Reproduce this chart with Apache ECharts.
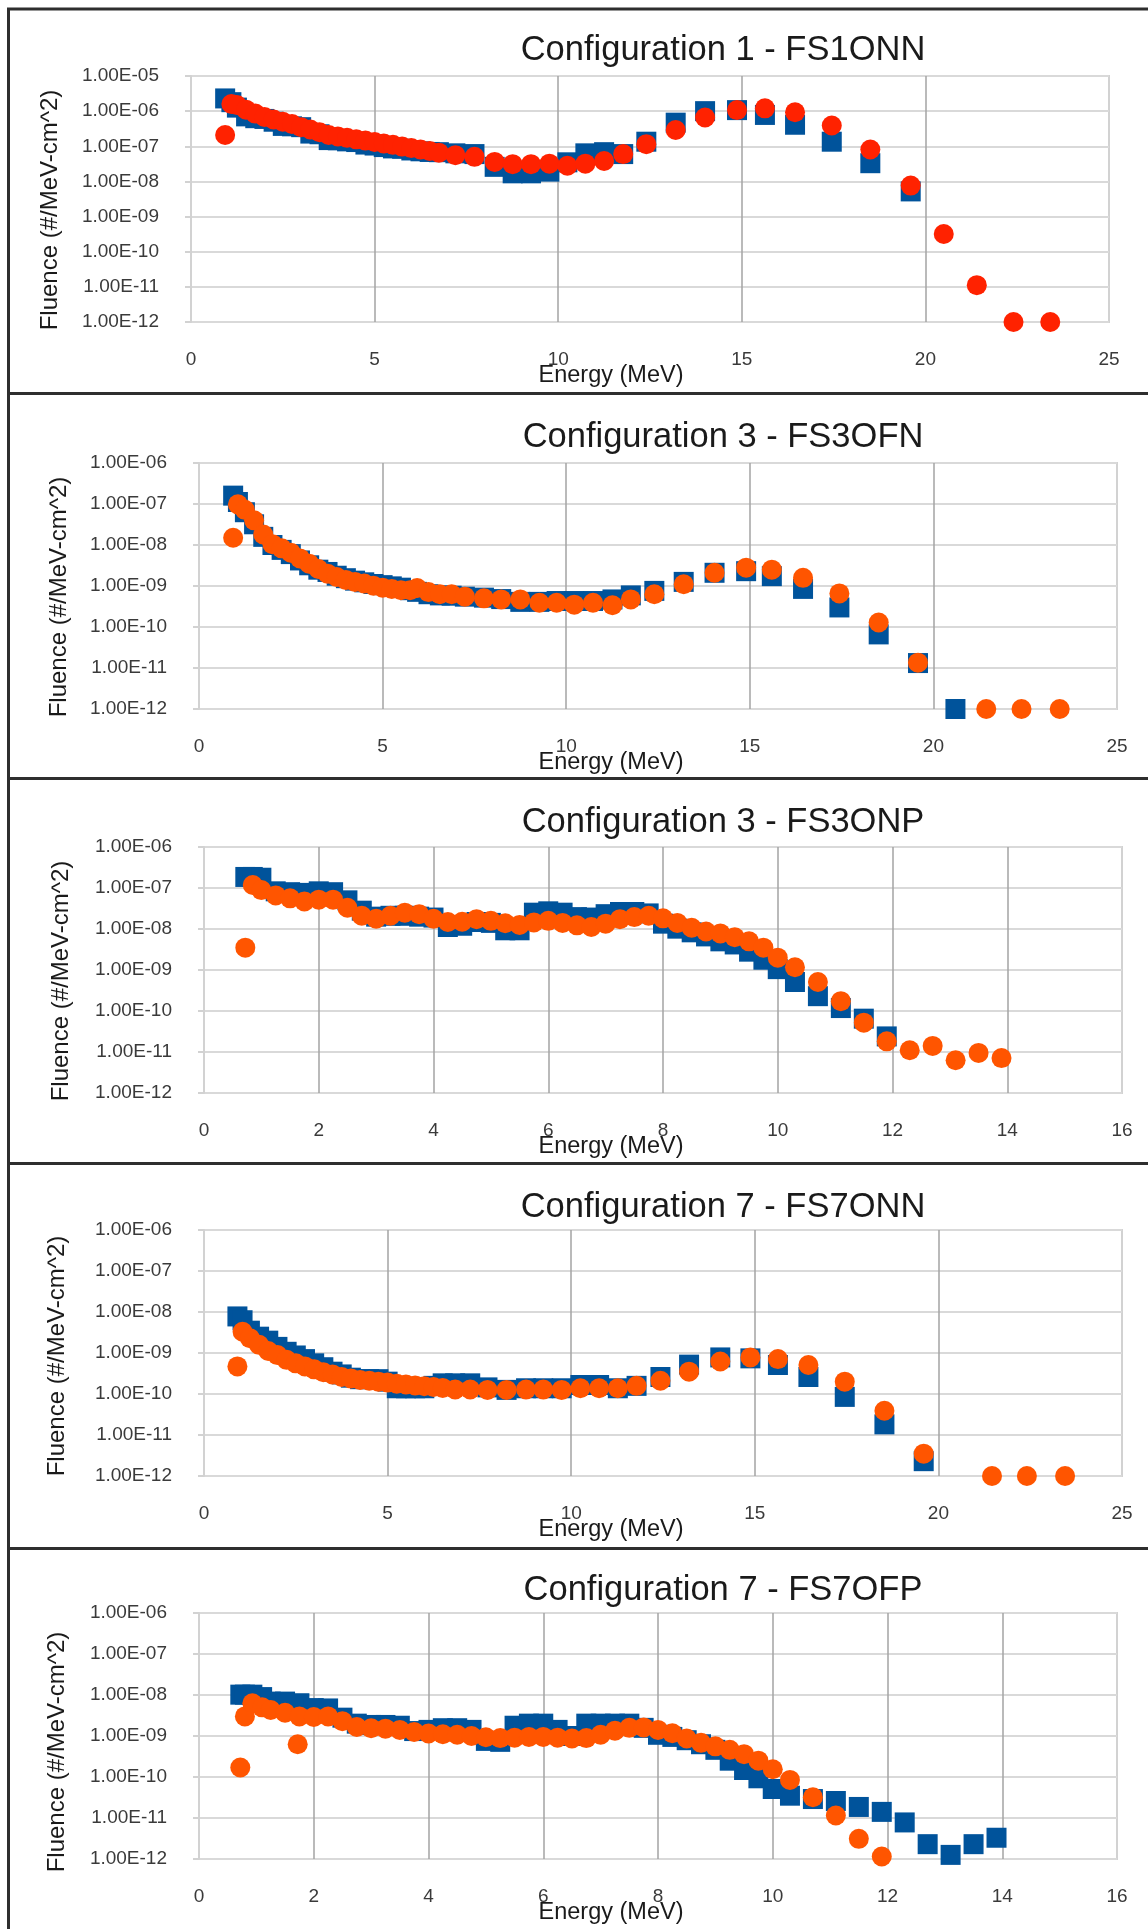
<!DOCTYPE html>
<html><head><meta charset="utf-8">
<script src="https://cdn.jsdelivr.net/npm/echarts@6/dist/echarts.min.js"></script>
<style>html,body{margin:0;padding:0;background:#fff}#c{width:1148px;height:1929px}</style>
</head><body><div id="c"></div>
<script>
// ---------- DATA ----------
const titles = [
  'Configuration 1 - FS1ONN',
  'Configuration 3 - FS3OFN',
  'Configuration 3 - FS3ONP',
  'Configuration 7 - FS7ONN',
  'Configuration 7 - FS7OFP'
];
const xAxisName = 'Energy (MeV)';
const yAxisName = 'Fluence (#/MeV-cm^2)';
const xMaxes = [25, 25, 16, 25, 16];
const xSteps = [5, 5, 2, 5, 2];
const yMins = [1e-12, 1e-12, 1e-12, 1e-12, 1e-12];
const yMaxes = [1e-5, 1e-6, 1e-6, 1e-6, 1e-6];

// Panel 1 - FS1ONN
const p1Energy = [0.93,1.1,1.25,1.5,1.75,2.0,2.25,2.5,2.75,3.0,3.25,3.5,3.75,4.0,4.25,4.5,4.75,5.0,5.25,5.5,5.75,6.0,6.25,6.5,6.75,7.2,7.72,8.27,8.76,9.26,9.76,10.25,10.74,11.25,11.77,12.4,13.2,14.0,14.87,15.63,16.45,17.45,18.5,19.6,20.5,21.4,22.4,23.4];
const p1Blue = [2.3e-6,1.8e-6,1.26e-6,7.1e-7,6.3e-7,6.0e-7,5.0e-7,3.8e-7,3.7e-7,3.5e-7,2.3e-7,2.2e-7,1.5e-7,1.48e-7,1.38e-7,1.32e-7,1.12e-7,1.05e-7,9.5e-8,8.7e-8,8.5e-8,7.6e-8,7.2e-8,6.9e-8,6.8e-8,6.3e-8,6.0e-8,2.6e-8,1.7e-8,1.7e-8,1.9e-8,3.5e-8,6.3e-8,6.8e-8,6.0e-8,1.35e-7,4.7e-7,1.0e-6,1.07e-6,7.8e-7,4.1e-7,1.35e-7,3.3e-8,5.2e-9,null,null,null,null];
const p1Red = [2.1e-7,1.6e-6,1.5e-6,1.1e-6,8.5e-7,6.8e-7,5.8e-7,5.0e-7,4.3e-7,3.5e-7,3.0e-7,2.5e-7,2.1e-7,1.9e-7,1.74e-7,1.58e-7,1.45e-7,1.32e-7,1.2e-7,1.1e-7,9.8e-8,8.9e-8,8.1e-8,7.4e-8,6.6e-8,5.6e-8,5.0e-8,3.6e-8,3.1e-8,3.1e-8,3.2e-8,2.8e-8,3.2e-8,3.8e-8,6.0e-8,1.15e-7,2.9e-7,6.6e-7,1.07e-6,1.2e-6,9.3e-7,3.9e-7,8.1e-8,7.6e-9,3.2e-10,1.12e-11,1e-12,1e-12];

// Panel 2 - FS3OFN
const p2Energy = [0.93,1.06,1.25,1.5,1.75,2.0,2.25,2.5,2.75,3.0,3.25,3.5,3.75,4.0,4.25,4.5,4.75,5.0,5.25,5.5,5.75,5.94,6.25,6.56,6.88,7.24,7.76,8.23,8.75,9.27,9.74,10.22,10.73,11.26,11.76,12.4,13.2,14.04,14.9,15.6,16.45,17.44,18.51,19.58,20.6,21.44,22.4,23.44];
const p2Blue = [1.6e-7,1.12e-7,6.3e-8,3.2e-8,1.58e-8,1.0e-8,7.6e-9,6.0e-9,4.2e-9,3.2e-9,2.5e-9,2.2e-9,1.78e-9,1.55e-9,1.35e-9,1.23e-9,1.12e-9,1.05e-9,9.8e-10,9.1e-10,7.9e-10,7.2e-10,6.3e-10,5.9e-10,5.8e-10,5.5e-10,5.2e-10,4.8e-10,4.1e-10,4.1e-10,4.3e-10,4.3e-10,4.3e-10,4.7e-10,5.9e-10,7.6e-10,1.26e-9,2.1e-9,2.3e-9,1.74e-9,8.5e-10,3.0e-10,6.6e-11,1.32e-11,1e-12,null,null,null];
const p2Orange = [1.5e-8,9.8e-8,7.2e-8,4.0e-8,1.8e-8,1.05e-8,8.3e-9,6.5e-9,4.7e-9,3.5e-9,2.6e-9,2.0e-9,1.66e-9,1.41e-9,1.26e-9,1.15e-9,1.02e-9,9.1e-10,8.5e-10,7.9e-10,7.9e-10,8.9e-10,7.1e-10,6.3e-10,6.3e-10,5.5e-10,5.0e-10,4.7e-10,4.7e-10,3.9e-10,3.9e-10,3.5e-10,3.9e-10,3.4e-10,4.7e-10,6.3e-10,1.1e-9,2.1e-9,2.8e-9,2.5e-9,1.58e-9,6.6e-10,1.29e-10,1.35e-11,null,1e-12,1e-12,1e-12];

// Panel 3 - FS3ONP
const p3Energy = [0.72,0.85,1.0,1.25,1.5,1.75,2.0,2.25,2.5,2.75,3.0,3.25,3.5,3.75,4.0,4.25,4.5,4.75,5.0,5.25,5.5,5.75,6.0,6.25,6.5,6.75,7.0,7.25,7.5,7.75,8.0,8.25,8.5,8.75,9.0,9.25,9.5,9.75,10.0,10.3,10.7,11.1,11.5,11.9,12.3,12.7,13.1,13.5,13.9];
const p3Blue = [1.86e-7,1.86e-7,1.78e-7,8.3e-8,7.9e-8,7.6e-8,8.3e-8,7.9e-8,5.0e-8,2.8e-8,2.0e-8,2.1e-8,2.1e-8,2.0e-8,1.9e-8,1.12e-8,1.2e-8,1.48e-8,1.41e-8,9.3e-9,9.3e-9,2.5e-8,2.7e-8,2.5e-8,1.95e-8,1.9e-8,2.3e-8,2.6e-8,2.6e-8,2.4e-8,1.35e-8,1.02e-8,8.3e-9,6.6e-9,5.0e-9,4.2e-9,2.8e-9,1.78e-9,1.05e-9,5.1e-10,2.3e-10,1.18e-10,6.5e-11,2.4e-11,null,null,null,null,null];
const p3Orange = [3.5e-9,1.18e-7,8.9e-8,6.6e-8,5.6e-8,4.7e-8,5.2e-8,5.2e-8,3.3e-8,2.1e-8,1.78e-8,2.1e-8,2.5e-8,2.3e-8,1.78e-8,1.48e-8,1.5e-8,1.74e-8,1.58e-8,1.38e-8,1.26e-8,1.45e-8,1.58e-8,1.41e-8,1.23e-8,1.12e-8,1.35e-8,1.74e-8,1.95e-8,2.1e-8,1.82e-8,1.41e-8,1.07e-8,8.7e-9,7.8e-9,6.3e-9,5.0e-9,3.5e-9,2.0e-9,1.17e-9,5.1e-10,1.74e-10,5.2e-11,1.82e-11,1.1e-11,1.41e-11,6.3e-12,9.5e-12,7.1e-12];

// Panel 4 - FS7ONN
const p4Energy = [0.91,1.05,1.25,1.5,1.75,2.0,2.25,2.5,2.75,3.0,3.25,3.5,3.75,4.0,4.25,4.5,4.75,5.0,5.25,5.5,5.75,6.0,6.25,6.5,6.84,7.25,7.72,8.24,8.77,9.24,9.74,10.25,10.76,11.27,11.78,12.43,13.21,14.06,14.88,15.63,16.46,17.45,18.53,19.6,21.46,22.41,23.45];
const p4Blue = [7.8e-9,6.3e-9,3.5e-9,2.5e-9,2.0e-9,1.41e-9,1.07e-9,8.7e-10,7.1e-10,5.6e-10,4.5e-10,3.5e-10,3.0e-10,2.5e-10,2.3e-10,2.3e-10,2.3e-10,2.0e-10,1.38e-10,1.38e-10,1.38e-10,1.38e-10,1.58e-10,1.82e-10,1.82e-10,1.82e-10,1.45e-10,1.26e-10,1.38e-10,1.38e-10,1.38e-10,1.66e-10,1.66e-10,1.38e-10,1.58e-10,2.6e-10,5.2e-10,7.8e-10,7.4e-10,5.1e-10,2.6e-10,8.5e-11,1.82e-11,2.3e-12,null,null,null];
const p4Orange = [4.7e-10,3.3e-9,2.3e-9,1.58e-9,1.12e-9,8.9e-10,6.8e-10,5.6e-10,4.7e-10,4.0e-10,3.4e-10,3.0e-10,2.6e-10,2.4e-10,2.2e-10,2.1e-10,2.0e-10,1.9e-10,1.78e-10,1.7e-10,1.62e-10,1.55e-10,1.48e-10,1.41e-10,1.29e-10,1.29e-10,1.26e-10,1.26e-10,1.29e-10,1.29e-10,1.26e-10,1.38e-10,1.38e-10,1.38e-10,1.58e-10,2.1e-10,3.5e-10,6.2e-10,7.8e-10,7.1e-10,5.1e-10,2.0e-10,3.9e-11,3.5e-12,1e-12,1e-12,1e-12];

// Panel 5 - FS7OFP
const p5Energy = [0.72,0.8,0.93,1.1,1.25,1.5,1.72,1.75,2.0,2.25,2.5,2.75,3.0,3.25,3.5,3.75,4.0,4.25,4.5,4.75,5.0,5.25,5.5,5.75,6.0,6.25,6.5,6.75,7.0,7.25,7.5,7.75,8.0,8.25,8.5,8.75,9.0,9.25,9.5,9.75,10.0,10.3,10.7,11.1,11.5,11.9,12.3,12.7,13.1,13.5,13.9];
const p5Blue = [1.02e-8,1.02e-8,1.02e-8,8.9e-9,6.9e-9,6.9e-9,null,6.3e-9,4.8e-9,4.7e-9,2.8e-9,2.0e-9,1.86e-9,1.86e-9,1.78e-9,1.32e-9,1.41e-9,1.55e-9,1.55e-9,1.41e-9,7.6e-10,7.2e-10,1.78e-9,2.0e-9,2.0e-9,1.41e-9,1.0e-9,2.0e-9,2.0e-9,2.0e-9,2.0e-9,1.58e-9,1.07e-9,9.5e-10,7.9e-10,6.3e-10,4.6e-10,2.5e-10,1.48e-10,9.3e-11,5.1e-11,3.5e-11,2.9e-11,2.6e-11,1.86e-11,1.41e-11,7.8e-12,2.3e-12,1.26e-12,2.3e-12,3.3e-12];
const p5Orange = [1.7e-10,3.0e-9,6.3e-9,5.0e-9,4.3e-9,3.7e-9,6.3e-10,3.0e-9,2.9e-9,3.0e-9,2.3e-9,1.66e-9,1.55e-9,1.51e-9,1.41e-9,1.26e-9,1.15e-9,1.1e-9,1.07e-9,1.0e-9,9.3e-10,8.9e-10,9.1e-10,9.5e-10,9.5e-10,9.1e-10,8.7e-10,8.9e-10,1.07e-9,1.35e-9,1.58e-9,1.62e-9,1.41e-9,1.17e-9,8.7e-10,6.8e-10,5.6e-10,4.6e-10,3.6e-10,2.5e-10,1.55e-10,8.5e-11,3.2e-11,1.15e-11,3.1e-12,1.15e-12,null,null,null,null,null];

const energies = [p1Energy, p2Energy, p3Energy, p4Energy, p5Energy];
const blues = [p1Blue, p2Blue, p3Blue, p4Blue, p5Blue];
const reds = [p1Red, p2Orange, p3Orange, p4Orange, p5Orange];

// ---------- LAYOUT / STYLE ----------
const layout = [
  {left:191, top:76,   titleY:50,   yNameX:50, yNameY:210},
  {left:199, top:463,  titleY:437,  yNameX:59, yNameY:597},
  {left:204, top:847,  titleY:822,  yNameX:61, yNameY:981},
  {left:204, top:1230, titleY:1207, yNameX:57, yNameY:1356},
  {left:199, top:1613, titleY:1590, yNameX:57, yNameY:1752}
];
const plotW = 918, plotH = 246;
const secondColors = ['#FF2200', '#FF5500', '#FF5500', '#FF5500', '#FF5500'];
const blueColor = '#00539B';
const FONT = '"Liberation Sans", Arial, Helvetica, sans-serif';

function fmtExp(v) {
  const e = Math.round(Math.log10(v));
  return '1.00E' + (e < 0 ? '-' : '+') + String(Math.abs(e)).padStart(2, '0');
}
function pairs(xs, ys) {
  const out = [];
  for (let i = 0; i < xs.length; i++) if (ys[i] != null) out.push([xs[i], ys[i]]);
  return out;
}

const grids = [], xAxes = [], yAxes = [], series = [], graphics = [];
layout.forEach((L, i) => {
  grids.push({left:L.left, top:L.top, width:plotW, height:plotH, show:true,
    borderColor:'#d2d2d2', borderWidth:2, backgroundColor:'transparent', containLabel:false});
  xAxes.push({type:'value', gridIndex:i, min:0, max:xMaxes[i], interval:xSteps[i],
    axisLine:{show:false}, axisTick:{show:false},
    splitLine:{show:true, showMinLine:false, showMaxLine:false, lineStyle:{color:'#a3a3a3', width:1.5}},
    axisLabel:{color:'#3a3a3a', fontSize:19, fontFamily:FONT, margin:28}});
  yAxes.push({type:'log', logBase:10, gridIndex:i, min:yMins[i], max:yMaxes[i],
    axisLine:{show:true, lineStyle:{color:'#d2d2d2', width:2}},
    axisTick:{show:true, length:6, lineStyle:{color:'#d2d2d2', width:2}},
    splitLine:{show:true, lineStyle:{color:'#d9d9d9', width:2}},
    axisLabel:{color:'#3a3a3a', fontSize:19, fontFamily:FONT, margin:32, formatter:fmtExp}});
  series.push({type:'scatter', xAxisIndex:i, yAxisIndex:i, symbol:'rect', symbolSize:20,
    itemStyle:{color:blueColor, opacity:1}, data:pairs(energies[i], blues[i]), clip:false, z:2, silent:true});
  series.push({type:'scatter', xAxisIndex:i, yAxisIndex:i, symbol:'circle', symbolSize:20,
    itemStyle:{color:secondColors[i], opacity:1}, data:pairs(energies[i], reds[i]), clip:false, z:3, silent:true});
  graphics.push({type:'text', x:723, y:L.titleY, z:10,
    style:{text:titles[i], font:'34.5px ' + FONT, fill:'#1a1a1a', textAlign:'center', align:'center', textVerticalAlign:'middle', verticalAlign:'middle'}});
  graphics.push({type:'text', x:611, y:L.top + plotH + 54, z:10,
    style:{text:xAxisName, font:'23.5px ' + FONT, fill:'#1a1a1a', textAlign:'center', align:'center', textVerticalAlign:'middle', verticalAlign:'middle'}});
  graphics.push({type:'text', x:L.yNameX, y:L.yNameY, rotation:Math.PI/2, z:10,
    style:{text:yAxisName, font:'24px ' + FONT, fill:'#1a1a1a', textAlign:'center', align:'center', textVerticalAlign:'middle', verticalAlign:'middle'}});
});
// panel frame lines
[9, 393.5, 778.5, 1163.5, 1548.5].forEach(y => {
  graphics.push({type:'line', z:20, shape:{x1:7, y1:y, x2:1148, y2:y}, style:{stroke:'#2e2e2e', lineWidth:3}});
});
graphics.push({type:'line', z:20, shape:{x1:8.5, y1:8, x2:8.5, y2:1929}, style:{stroke:'#2e2e2e', lineWidth:3}});

const chart = echarts.init(document.getElementById('c'), null, {renderer:'canvas'});
chart.setOption({
  animation:false,
  backgroundColor:'#ffffff',
  grid:grids, xAxis:xAxes, yAxis:yAxes, series:series, graphic:graphics
});
</script></body></html>
